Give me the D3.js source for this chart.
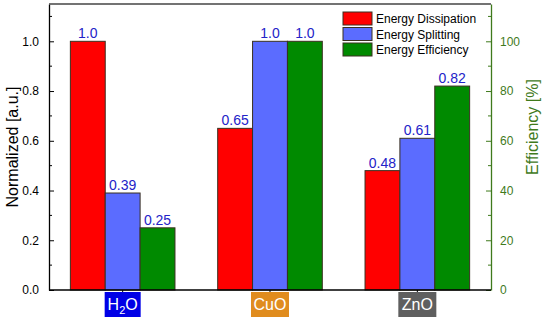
<!DOCTYPE html>
<html>
<head>
<meta charset="utf-8">
<script src="https://cdn.jsdelivr.net/npm/d3@7"></script>
<style>
  body { margin: 0; background: #fff; }
  text { font-family: "Liberation Sans", Arial, sans-serif; }
</style>
</head>
<body>
<svg id="chart" width="550" height="324"></svg>
<script>
// data
var samples = ["H2O", "CuO", "ZnO"];
var seriesNames = ["Energy Dissipation", "Energy Splitting", "Energy Efficiency"];
var dissipation = [1.0, 0.65, 0.48];
var splitting = [0.39, 1.0, 0.61];
var efficiency = [0.25, 1.0, 0.82];
var valueLabels = [["1.0", "0.39", "0.25"], ["0.65", "1.0", "1.0"], ["0.48", "0.61", "0.82"]];
var leftTicks = [0, 0.2, 0.4, 0.6, 0.8, 1.0];
var rightTicks = [0, 20, 40, 60, 80, 100];

var colors = ["#ff0000", "#5b6cff", "#008a00"];
var labelBoxColors = ["#0000e6", "#e08c1e", "#5f5f5f"];
var axisGreen = "#3f7a1c";

var margin = {left: 49, right: 59, top: 4, bottom: 34};
var width = 550 - margin.left - margin.right;
var height = 324 - margin.top - margin.bottom;

var svg = d3.select("#chart");
var g = svg.append("g").attr("transform", "translate(" + margin.left + "," + margin.top + ")");

var x0 = d3.scaleBand().domain(samples).range([0, width]).paddingInner(0.29).paddingOuter(0.145);
var x1 = d3.scaleBand().domain(seriesNames).range([0, x0.bandwidth()]);
var y = d3.scaleLinear().domain([0, 1.15]).range([height, 0]);
var yR = d3.scaleLinear().domain([0, 115]).range([height, 0]);

var rows = samples.map(function (s, i) {
    return {sample: s, values: [dissipation[i], splitting[i], efficiency[i]]};
});

// bars
var groups = g.selectAll(".grp").data(rows).enter().append("g")
    .attr("transform", function (d) { return "translate(" + x0(d.sample) + ",0)"; });

groups.selectAll("rect").data(function (d) { return d.values; }).enter().append("rect")
    .attr("x", function (d, j) { return x1(seriesNames[j]); })
    .attr("y", function (d) { return y(d); })
    .attr("width", x1.bandwidth())
    .attr("height", function (d) { return height - y(d); })
    .attr("fill", function (d, j) { return colors[j]; })
    .attr("stroke", "#3a3020")
    .attr("stroke-width", 1);

groups.selectAll(".vl").data(function (d, i) {
        return d.values.map(function (v, j) { return {v: v, j: j, t: valueLabels[i][j]}; });
    }).enter().append("text")
    .attr("x", function (d) { return x1(seriesNames[d.j]) + x1.bandwidth() / 2; })
    .attr("y", function (d) { return y(d.v) - 3; })
    .attr("text-anchor", "middle")
    .style("font-size", "14px")
    .style("fill", "#2323c8")
    .text(function (d) { return d.t; });

// left axis, ticks inward
var leftAxis = d3.axisLeft(y).tickValues(leftTicks).tickFormat(d3.format(".1f")).tickSizeInner(-5).tickSizeOuter(0).tickPadding(10);
var la = g.append("g").call(leftAxis);
la.select(".domain").attr("stroke", "#000").attr("stroke-width", 1.3);
la.selectAll("text").style("font-size", "12px").style("fill", "#000").attr("font-family", null);
la.selectAll("line").attr("stroke", "#000");
la.selectAll(".minor").data(d3.range(0.1, 1.15, 0.2)).enter().append("line")
    .attr("x1", 0).attr("x2", 3)
    .attr("y1", function (d) { return y(d); }).attr("y2", function (d) { return y(d); })
    .attr("stroke", "#000");

// right axis, ticks inward
var rightAxis = d3.axisRight(yR).tickValues(rightTicks).tickSizeInner(-5).tickSizeOuter(0).tickPadding(9);
var ra = g.append("g").attr("transform", "translate(" + width + ",0)").call(rightAxis);
ra.select(".domain").attr("stroke", axisGreen).attr("stroke-width", 1.3);
ra.selectAll("text").style("font-size", "12px").style("fill", axisGreen).attr("font-family", null);
ra.selectAll("line").attr("stroke", axisGreen);
ra.selectAll(".minor").data(d3.range(10, 115, 20)).enter().append("line")
    .attr("x1", 0).attr("x2", -3)
    .attr("y1", function (d) { return yR(d); }).attr("y2", function (d) { return yR(d); })
    .attr("stroke", axisGreen);

// bottom axis line and top frame
g.append("line").attr("x1", 0).attr("x2", width).attr("y1", height).attr("y2", height)
    .attr("stroke", "#000").attr("stroke-width", 1.3);
g.append("line").attr("x1", 0).attr("x2", width).attr("y1", 0).attr("y2", 0)
    .attr("stroke", "#444").attr("stroke-width", 1.5);
g.selectAll(".xt").data(samples).enter().append("line")
    .attr("x1", function (d) { return x0(d) + x0.bandwidth() / 2; })
    .attr("x2", function (d) { return x0(d) + x0.bandwidth() / 2; })
    .attr("y1", height).attr("y2", height + 3)
    .attr("stroke", "#000");

// x category labels with coloured boxes
var xl = g.selectAll(".xl").data(samples).enter().append("g")
    .attr("transform", function (d) { return "translate(" + (x0(d) + x0.bandwidth() / 2) + "," + (height + 2) + ")"; });
xl.append("rect")
    .attr("x", function (d, i) { return i === 0 ? -18 : -19; })
    .attr("y", 0)
    .attr("width", function (d, i) { return i === 0 ? 36 : 38; })
    .attr("height", 25)
    .attr("fill", function (d, i) { return labelBoxColors[i]; });
var xt = xl.append("text")
    .attr("x", 0).attr("y", 18)
    .attr("text-anchor", "middle")
    .style("font-size", "16px")
    .style("fill", "#fff");
xt.each(function (d) {
    var t = d3.select(this);
    if (d === "H2O") {
        t.append("tspan").text("H");
        t.append("tspan").text("2").style("font-size", "11px").attr("dy", 4);
        t.append("tspan").text("O").attr("dy", -4);
    } else {
        t.text(d);
    }
});

// axis titles
svg.append("text")
    .attr("transform", "translate(18,147) rotate(-90)")
    .attr("text-anchor", "middle")
    .style("font-size", "16px")
    .style("fill", "#000")
    .text("Normalized [a.u.]");

svg.append("text")
    .attr("transform", "translate(538,127) rotate(-90)")
    .attr("text-anchor", "middle")
    .style("font-size", "16px")
    .style("fill", axisGreen)
    .text("Efficiency [%]");

// legend
var legend = svg.append("g").attr("transform", "translate(343,12)");
var li = legend.selectAll("g").data(seriesNames).enter().append("g")
    .attr("transform", function (d, i) { return "translate(0," + (i * 15.5) + ")"; });
li.append("rect").attr("width", 29).attr("height", 13)
    .attr("fill", function (d, i) { return colors[i]; })
    .attr("stroke", "#3a3020").attr("stroke-width", 1);
li.append("text").attr("x", 33).attr("y", 11)
    .style("font-size", "12px").style("fill", "#000")
    .text(function (d) { return d; });
</script>
</body>
</html>
